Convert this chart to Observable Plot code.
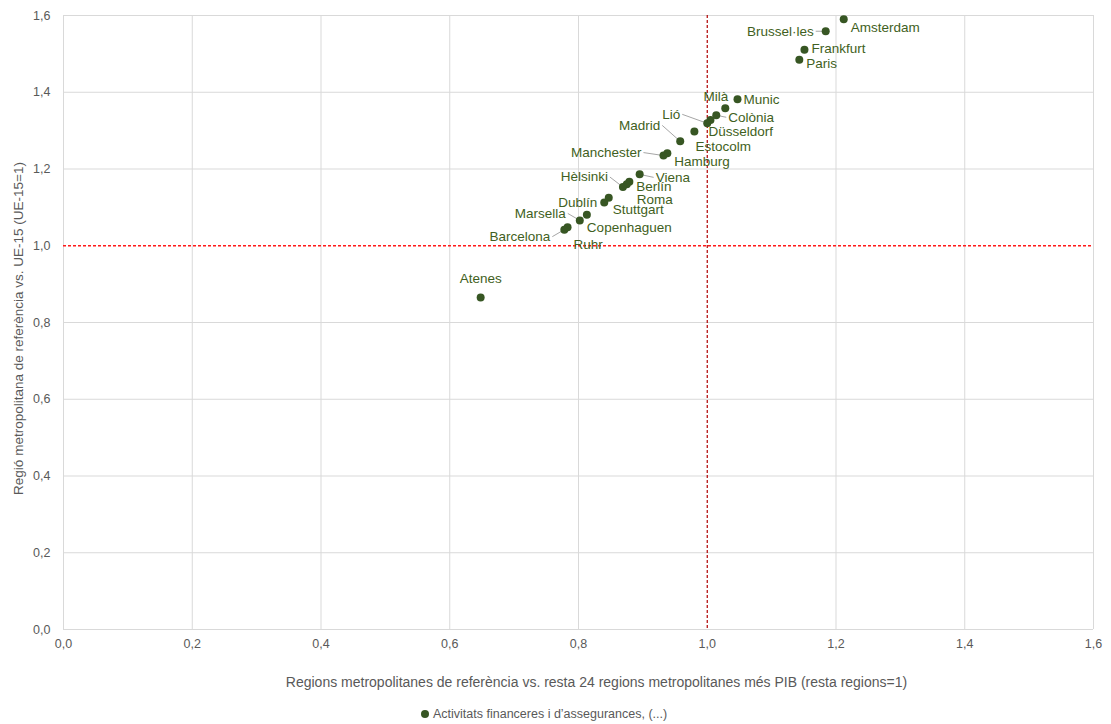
<!DOCTYPE html>
<html><head><meta charset="utf-8">
<script src="https://cdn.jsdelivr.net/npm/d3@7"></script>
<script src="https://cdn.jsdelivr.net/npm/@observablehq/plot@0.6"></script>
<style>
body{margin:0;background:#fff;font-family:"Liberation Sans",Arial,sans-serif;}
#wrap{position:relative;width:1111px;height:724px;overflow:hidden;}
#legend{position:absolute;left:421px;top:706px;font-size:12.5px;color:#595959;white-space:nowrap;line-height:16px;}
#legend span.dot{display:inline-block;width:8px;height:8px;border-radius:50%;background:#375623;margin-right:4px;vertical-align:0px;}
</style></head><body><div id="wrap"></div>
<script>
// ---- data ----
const cities = ["Amsterdam","Brussel·les","Frankfurt","Paris","Munic","Milà","Colònia","Düsseldorf","Lió","Estocolm","Madrid","Hamburg","Manchester","Viena","Berlín","Roma","Hèlsinki","Stuttgart","Dublín","Copenhaguen","Marsella","Ruhr","Barcelona","Atenes"];
const xValues = [1.212,1.184,1.151,1.143,1.047,1.028,1.014,1.005,1.000,0.980,0.958,0.938,0.932,0.895,0.879,0.875,0.869,0.847,0.840,0.813,0.802,0.783,0.778,0.648];
const yValues = [1.590,1.559,1.511,1.485,1.382,1.358,1.340,1.328,1.319,1.298,1.272,1.241,1.235,1.186,1.167,1.160,1.153,1.125,1.113,1.081,1.066,1.048,1.042,0.865];
const xTicks = [0,0.2,0.4,0.6,0.8,1.0,1.2,1.4,1.6];
const yTicks = [0,0.2,0.4,0.6,0.8,1.0,1.2,1.4,1.6];
const refX = [1];
const refY = [1];
const xTitle = "Regions metropolitanes de referència vs. resta 24 regions metropolitanes més PIB (resta regions=1)";
const yTitle = "Regió metropolitana de referència vs. UE-15 (UE-15=1)";
const seriesName = "Activitats financeres i d’assegurances, (...)";

// ---- label layout (pixel offsets from each dot) ----
const labelDx =     [7,-12,7,7,6,3,12,-2,-27,1,-20,7,-22,16,7,10,-15,4,-7,0,-14,6,-14,0];
const labelDy =     [8,0,-1,4,1,-12,2,12,-9,15,-16,8,-3,3,5,15,-10,12,0,13,-7,17,7,-19];
const labelAnchor = ["start","end","start","start","start","end","start","start","end","start","end","start","end","start","start","start","end","start","end","start","end","start","end","middle"];
const labelLeader = [false,true,false,false,false,false,true,false,true,false,true,false,true,true,false,false,true,false,false,false,true,false,true,false];

const W = 1111, H = 700, ML = 63, MR = 18, MT = 15, MB = 71;
const kx = (W - ML - MR) / 1.6, ky = (H - MT - MB) / 1.6;
const fmt = d => d.toFixed(1).replace(".", ",");

const pts = cities.map((name, i) => {
  const tx = xValues[i] + labelDx[i] / kx, ty = yValues[i] - labelDy[i] / ky;
  const gap = labelAnchor[i] === "end" ? 2 : labelAnchor[i] === "start" ? -2 : 0;
  return {name, x: xValues[i], y: yValues[i], tx, ty, anchor: labelAnchor[i], leader: labelLeader[i],
    lx: tx + gap / kx, ly: ty};
});

const font = "'Liberation Sans', Arial, sans-serif";
const labelFill = "#3f5f22";
const plot = Plot.plot({
  width: W, height: H,
  marginLeft: ML, marginRight: MR, marginTop: MT, marginBottom: MB,
  style: {fontFamily: font, background: "#fff", color: "#595959", fontSize: "12px"},
  x: {domain: [0, 1.6], ticks: xTicks, tickFormat: fmt, label: null},
  y: {domain: [0, 1.6], ticks: yTicks, tickFormat: fmt, label: null},
  marks: [
    Plot.gridX(xTicks.filter(v => v !== 1), {stroke: "#d9d9d9", strokeOpacity: 1}),
    Plot.gridY(yTicks.filter(v => v !== 1), {stroke: "#d9d9d9", strokeOpacity: 1}),
    Plot.axisX(xTicks, {tickSize: 0, tickPadding: 10, tickFormat: fmt, label: null, fontSize: 12.5}),
    Plot.axisY(yTicks, {tickSize: 0, tickPadding: 13, tickFormat: fmt, label: null, fontSize: 12.5}),
    Plot.ruleX(refX, {stroke: "#b00000", strokeDasharray: "3,2", strokeWidth: 1.2}),
    Plot.ruleY(refY, {stroke: "#ff1a1a", strokeDasharray: "3,2", strokeWidth: 1.3}),
    Plot.link(pts.filter(d => d.leader), {x1: "x", y1: "y", x2: "lx", y2: "ly", stroke: "#a6a6a6", strokeWidth: 1}),
    Plot.dot(pts, {x: "x", y: "y", r: 4, fill: "#375623", stroke: "none"}),
    Plot.text(pts.filter(d => d.anchor === "start"), {x: "tx", y: "ty", text: "name", textAnchor: "start", fill: labelFill, fontSize: 13.5}),
    Plot.text(pts.filter(d => d.anchor === "end"), {x: "tx", y: "ty", text: "name", textAnchor: "end", fill: labelFill, fontSize: 13.5}),
    Plot.text(pts.filter(d => d.anchor === "middle"), {x: "tx", y: "ty", text: "name", textAnchor: "middle", fill: labelFill, fontSize: 13.5}),
    Plot.text([xTitle], {frameAnchor: "bottom", textAnchor: "middle", dy: 57, dx: 18, fill: "#595959", fontSize: 14}),
    Plot.text([yTitle], {frameAnchor: "left", textAnchor: "middle", rotate: -90, dx: -45, dy: 6, fill: "#595959", fontSize: 13.5})
  ]
});
const wrap = document.getElementById("wrap");
wrap.appendChild(plot);
const lg = document.createElement("div");
lg.id = "legend";
lg.innerHTML = '<span class="dot"></span>';
lg.appendChild(document.createTextNode(seriesName));
wrap.appendChild(lg);
</script>
</body></html>
